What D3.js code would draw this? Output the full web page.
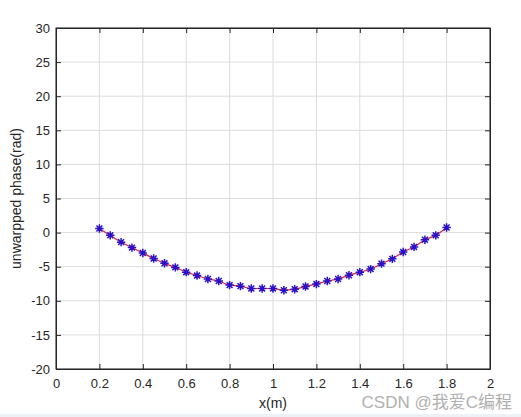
<!DOCTYPE html>
<html>
<head>
<meta charset="utf-8">
<script src="https://cdn.jsdelivr.net/npm/d3@7"></script>
<style>
    body { margin: 0; background: #fff; }
    svg text { font-family: "Liberation Sans", Arial, sans-serif; }
</style>
</head>
<body>
<div id="chart"></div>
<script>
// x positions (m) and unwrapped phase (rad)
const xValues = [0.2, 0.25, 0.3, 0.35, 0.4, 0.45, 0.5, 0.55, 0.6, 0.65, 0.7,
    0.75, 0.8, 0.85, 0.9, 0.95, 1.0, 1.05, 1.1, 1.15, 1.2, 1.25, 1.3, 1.35,
    1.4, 1.45, 1.5, 1.55, 1.6, 1.65, 1.7, 1.75, 1.8];
const phaseValues = [0.6, -0.4, -1.4, -2.2, -3.0, -3.8, -4.5, -5.1, -5.8, -6.3, -6.8,
    -7.1, -7.7, -7.85, -8.2, -8.2, -8.2, -8.45, -8.3, -7.9, -7.55, -7.1, -6.8, -6.25,
    -5.8, -5.35, -4.55, -3.85, -2.85, -2.1, -1.05, -0.4, 0.75];
const xTicks = [0, 0.2, 0.4, 0.6, 0.8, 1, 1.2, 1.4, 1.6, 1.8, 2];
const yTicks = [-20, -15, -10, -5, 0, 5, 10, 15, 20, 25, 30];

const W = 521, H = 417;
const margin = { top: 28, right: 31, bottom: 48, left: 56 };
const width = W - margin.left - margin.right;
const height = H - margin.top - margin.bottom;

const svg = d3.select('#chart').append('svg')
    .attr('width', W)
    .attr('height', H);

// light strip at the very bottom of the screenshot
svg.append('rect')
    .attr('x', 0).attr('y', 414)
    .attr('width', W).attr('height', 3)
    .attr('fill', '#eef1f6');

const g = svg.append('g')
    .attr('transform', `translate(${margin.left},${margin.top})`);

const xScale = d3.scaleLinear().domain([0, 2]).range([0, width]);
const yScale = d3.scaleLinear().domain([-20, 30]).range([height, 0]);

// grid
g.append('g')
    .selectAll('line')
    .data(xTicks)
    .join('line')
    .attr('x1', d => xScale(d)).attr('x2', d => xScale(d))
    .attr('y1', 0).attr('y2', height)
    .attr('stroke', '#dcdcdc').attr('stroke-width', 1);

g.append('g')
    .selectAll('line')
    .data(yTicks)
    .join('line')
    .attr('y1', d => yScale(d)).attr('y2', d => yScale(d))
    .attr('x1', 0).attr('x2', width)
    .attr('stroke', '#dcdcdc').attr('stroke-width', 1);

// axes, ticks pointing inward
const tickLen = 5;
const fmt = d => String(d);
const xAxis = g.append('g')
    .attr('transform', `translate(0,${height})`)
    .call(d3.axisBottom(xScale).tickValues(xTicks).tickFormat(fmt).tickSizeInner(-tickLen).tickSizeOuter(0).tickPadding(10));
const yAxis = g.append('g')
    .call(d3.axisLeft(yScale).tickValues(yTicks).tickFormat(fmt).tickSizeInner(-tickLen).tickSizeOuter(0).tickPadding(6));
const xTop = g.append('g')
    .call(d3.axisTop(xScale).tickValues(xTicks).tickSizeInner(-tickLen).tickSizeOuter(0).tickFormat(''));
const yRight = g.append('g')
    .attr('transform', `translate(${width},0)`)
    .call(d3.axisRight(yScale).tickValues(yTicks).tickSizeInner(-tickLen).tickSizeOuter(0).tickFormat(''));

[xAxis, yAxis, xTop, yRight].forEach(a => {
    a.select('.domain').attr('stroke', '#262626');
    a.selectAll('.tick line').attr('stroke', '#262626');
    a.selectAll('.tick text')
        .attr('fill', '#262626')
        .style('font-size', '13px');
});

// box outline
g.append('rect')
    .attr('width', width).attr('height', height)
    .attr('fill', 'none')
    .attr('stroke', '#262626').attr('stroke-width', 1);

const points = xValues.map((x, i) => ({ x: x, y: phaseValues[i] }));

// red line through the points
const line = d3.line()
    .x(d => xScale(d.x))
    .y(d => yScale(d.y))
    .curve(d3.curveMonotoneX);

g.append('path')
    .datum(points)
    .attr('d', line)
    .attr('fill', 'none')
    .attr('stroke', '#e0203c')
    .attr('stroke-width', 1.2);

// asterisk markers
const r = 4.2;
const star = `M${-r},0L${r},0M0,${-r}L0,${r}` +
    `M${-r * 0.7},${-r * 0.7}L${r * 0.7},${r * 0.7}M${-r * 0.7},${r * 0.7}L${r * 0.7},${-r * 0.7}`;

g.append('g')
    .selectAll('path')
    .data(points)
    .join('path')
    .attr('transform', d => `translate(${xScale(d.x)},${yScale(d.y)})`)
    .attr('d', star)
    .attr('stroke', '#2a10c8')
    .attr('stroke-width', 1.5)
    .attr('fill', 'none');

// axis labels
svg.append('text')
    .attr('x', margin.left + width / 2)
    .attr('y', 408)
    .attr('text-anchor', 'middle')
    .attr('fill', '#262626')
    .style('font-size', '14px')
    .text('x(m)');

svg.append('text')
    .attr('transform', `translate(21,${margin.top + height / 2}) rotate(-90)`)
    .attr('text-anchor', 'middle')
    .attr('fill', '#262626')
    .style('font-size', '14px')
    .text('unwarpped phase(rad)');

// watermark
svg.append('text')
    .attr('x', 512)
    .attr('y', 408)
    .attr('text-anchor', 'end')
    .attr('fill', '#b0b0b0')
    .style('font-size', '17px')
    .style('font-family', '"Liberation Sans", "Noto Sans CJK SC", sans-serif')
    .text('CSDN @我爱C编程');
</script>
</body>
</html>
